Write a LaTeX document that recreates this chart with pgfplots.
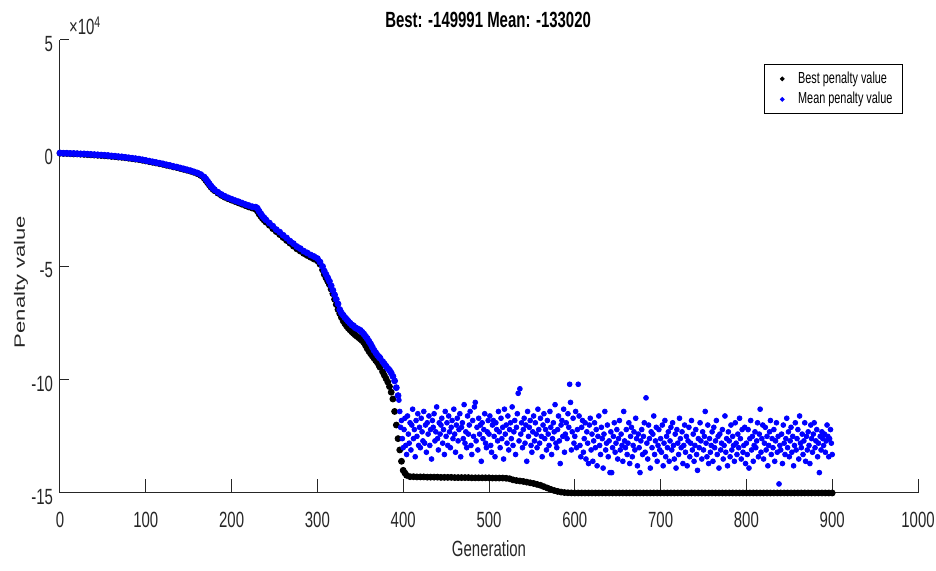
\documentclass[border=0pt]{standalone}
\usepackage{fontspec}
\setmainfont[FakeStretch=0.68]{Liberation Sans}
\newfontfamily\ylfont{Liberation Sans}
\usepackage{graphicx}
\usepackage{pgfplots}
\pgfplotsset{compat=1.18}
\usetikzlibrary{calc}
\definecolor{mgray}{rgb}{0.15,0.15,0.15}
\begin{document}
\begin{tikzpicture}
\begin{axis}[
  name=ax, scale only axis, width=429pt, height=226.5pt,
  xmin=0, xmax=1000, ymin=-15, ymax=5,
  axis x line*=bottom, axis y line*=left,
  axis line style={-, mgray, line width=0.5pt},
  xtick={0,100,...,1000}, ytick={-15,-10,-5,0,5},
  tick align=inside,
  xtick style={mgray, line width=0.5pt, /pgfplots/major tick length=7pt},
  ytick style={mgray, line width=0.5pt, /pgfplots/major tick length=4.5pt},
  tick label style={font=\fontsize{11}{12}\selectfont, text=mgray},
  /pgf/number format/assume math mode=true,
  /pgf/number format/1000 sep={},
  scaled ticks=false,
  xticklabel style={yshift=-5.8pt},
  yticklabel style={yshift=-2pt},
  xlabel={Generation},
  xlabel style={at={(axis description cs:0.5,0)}, anchor=base, yshift=-32pt, font=\fontsize{11}{12}\selectfont, text=mgray},
  ylabel={\ylfont\scalebox{1.47}[1]{Penalty value}},
  ylabel style={at={(axis description cs:-0.0408,0.466)}, anchor=base, font=\fontsize{7.5}{9}\selectfont, text=mgray},
  title={Best: -149991 Mean: -133020},
  title style={at={(axis description cs:0.499,1)}, anchor=base, yshift=0pt, font=\bfseries\fontsize{11}{12}\selectfont},
  legend style={at={(axis description cs:1,1)}, anchor=north east, xshift=-7.5pt, yshift=-12pt, draw=black, line width=0.5pt, font=\fontsize{8}{9}\selectfont, inner xsep=3pt, inner ysep=1.5pt, row sep=-1pt},
  legend cell align=left,
  legend image code/.code={\draw[mark size=0.9pt,#1] plot coordinates {(0.2cm,0cm)}; \path (0cm,0cm) (0.4cm,0cm);},
  clip=false,
]
% Best penalty value (units of 1e4)
\addplot[only marks, mark=*, mark size=1.5pt, black] coordinates {
(0,0.00)(4,-0.01)(8,-0.01)(12,-0.02)(16,-0.03)(20,-0.03)(24,-0.04)(28,-0.05)(32,-0.06)(36,-0.07)
(40,-0.08)(44,-0.09)(48,-0.10)(52,-0.11)(56,-0.12)(60,-0.14)(64,-0.15)(68,-0.17)(72,-0.18)(76,-0.20)
(80,-0.22)(84,-0.24)(88,-0.26)(92,-0.28)(96,-0.31)(100,-0.34)(104,-0.37)(108,-0.40)(112,-0.43)(116,-0.46)
(120,-0.49)(124,-0.53)(128,-0.56)(132,-0.60)(136,-0.63)(140,-0.67)(144,-0.71)(148,-0.75)(152,-0.79)(156,-0.84)
(160,-0.90)(164,-0.98)(168,-1.10)(170,-1.20)(172,-1.30)(174,-1.40)(176,-1.50)(178,-1.58)(180,-1.65)(184,-1.76)(188,-1.86)(192,-1.94)(196,-2.01)
(200,-2.07)(204,-2.13)(208,-2.19)(212,-2.25)(216,-2.31)(220,-2.37)(224,-2.42)(228,-2.47)(230,-2.55)(232,-2.68)
(234,-2.78)(236,-2.88)(238,-2.96)(240,-3.04)(244,-3.18)(248,-3.33)(252,-3.46)(256,-3.59)(260,-3.72)(264,-3.85)
(268,-3.97)(272,-4.10)(276,-4.22)(280,-4.32)(284,-4.42)(288,-4.51)(292,-4.59)(296,-4.67)
(300,-4.75)(303,-4.90)(306,-5.15)(308,-5.35)(310,-5.50)(312,-5.65)(314,-5.80)(316,-6.00)(318,-6.20)(320,-6.45)
(322,-6.68)(324,-6.90)(326,-7.08)(328,-7.25)(330,-7.40)(332,-7.52)(334,-7.63)(336,-7.72)(338,-7.80)(340,-7.88)
(342,-7.95)(344,-8.02)(346,-8.08)(348,-8.14)(350,-8.20)(352,-8.27)(354,-8.35)(356,-8.48)(358,-8.62)(360,-8.74)(362,-8.85)(364,-8.95)(366,-9.05)(368,-9.15)(370,-9.25)
(372,-9.38)(373,-9.45)(376,-9.65)(378,-9.80)(380,-9.95)(382,-10.10)(384,-10.30)(386,-10.55)(388,-10.85)(390,-11.40)(392,-12.00)
(394,-12.60)(396,-13.10)(398,-13.60)(400,-14.00)(402,-14.12)(404,-14.22)
(408,-14.28)(412,-14.28)(416,-14.29)(420,-14.29)(424,-14.29)(428,-14.30)(432,-14.30)(436,-14.30)(440,-14.30)(444,-14.31)
(448,-14.31)(452,-14.31)(456,-14.31)(460,-14.32)(464,-14.32)(468,-14.32)(472,-14.32)(476,-14.32)(480,-14.33)(484,-14.33)
(488,-14.33)(492,-14.33)(496,-14.33)(500,-14.33)(504,-14.34)(508,-14.34)(512,-14.34)(516,-14.34)(520,-14.35)
(524,-14.37)(528,-14.42)(532,-14.45)(536,-14.47)(540,-14.49)(544,-14.52)(548,-14.55)(552,-14.58)(556,-14.62)(560,-14.66)
(564,-14.72)(568,-14.78)(572,-14.84)(576,-14.89)(580,-14.93)(584,-14.96)(588,-14.98)(592,-14.99)(596,-14.995)
(600,-14.999)(604,-14.999)(608,-14.999)(612,-14.999)(616,-14.999)(620,-14.999)(624,-14.999)(628,-14.999)(632,-14.999)(636,-14.999)
(640,-14.999)(644,-14.999)(648,-14.999)(652,-14.999)(656,-14.999)(660,-14.999)(664,-14.999)(668,-14.999)(672,-14.999)(676,-14.999)
(680,-14.999)(684,-14.999)(688,-14.999)(692,-14.999)(696,-14.999)(700,-14.999)(704,-14.999)(708,-14.999)(712,-14.999)(716,-14.999)
(720,-14.999)(724,-14.999)(728,-14.999)(732,-14.999)(736,-14.999)(740,-14.999)(744,-14.999)(748,-14.999)(752,-14.999)(756,-14.999)
(760,-14.999)(764,-14.999)(768,-14.999)(772,-14.999)(776,-14.999)(780,-14.999)(784,-14.999)(788,-14.999)(792,-14.999)(796,-14.999)
(800,-14.999)(804,-14.999)(808,-14.999)(812,-14.999)(816,-14.999)(820,-14.999)(824,-14.999)(828,-14.999)(832,-14.999)(836,-14.999)
(840,-14.999)(844,-14.999)(848,-14.999)(852,-14.999)(856,-14.999)(860,-14.999)(864,-14.999)(868,-14.999)(872,-14.999)(876,-14.999)
(880,-14.999)(884,-14.999)(888,-14.999)(892,-14.999)(896,-14.999)(900,-14.9991)
};
\addlegendentry{Best penalty value}
% Mean penalty value, converging part
\addplot[only marks, mark=*, mark size=1.5pt, blue] coordinates {
(0,0.01)(4,0.00)(8,0.00)(12,-0.01)(16,-0.01)(20,-0.02)(24,-0.03)(28,-0.03)(32,-0.04)(36,-0.05)
(40,-0.06)(44,-0.07)(48,-0.08)(52,-0.09)(56,-0.10)(60,-0.12)(64,-0.13)(68,-0.15)(72,-0.16)(76,-0.18)
(80,-0.20)(84,-0.22)(88,-0.24)(92,-0.26)(96,-0.29)(100,-0.32)(104,-0.35)(108,-0.38)(112,-0.41)(116,-0.44)
(120,-0.47)(124,-0.51)(128,-0.54)(132,-0.58)(136,-0.61)(140,-0.65)(144,-0.69)(148,-0.73)(152,-0.77)(156,-0.82)
(160,-0.87)(164,-0.94)(168,-1.05)(170,-1.14)(172,-1.24)(174,-1.35)(176,-1.45)(178,-1.54)(180,-1.61)(184,-1.72)(188,-1.82)(192,-1.90)(196,-1.97)
(200,-2.03)(204,-2.09)(208,-2.14)(212,-2.20)(216,-2.26)(220,-2.31)(224,-2.36)(228,-2.38)(230,-2.43)(232,-2.56)
(234,-2.67)(236,-2.78)(238,-2.86)(240,-2.94)(244,-3.08)(248,-3.22)(252,-3.37)(256,-3.48)(260,-3.62)(264,-3.74)
(268,-3.88)(272,-3.99)(276,-4.12)(280,-4.21)(284,-4.32)(288,-4.40)(292,-4.49)(296,-4.56)
(300,-4.65)(303,-4.80)(306,-5.00)(308,-5.20)(310,-5.35)(312,-5.50)(314,-5.65)(316,-5.85)(318,-6.05)(320,-6.25)
(322,-6.45)(324,-6.65)(326,-6.90)(328,-7.05)(330,-7.15)(332,-7.25)(334,-7.33)(336,-7.42)(338,-7.50)(340,-7.58)
(342,-7.62)(344,-7.70)(346,-7.74)(348,-7.78)(350,-7.82)(352,-7.90)(354,-7.98)(356,-8.08)(358,-8.18)(360,-8.30)(362,-8.42)(364,-8.56)(366,-8.70)(368,-8.81)(370,-8.92)
(372,-9.00)(373,-9.05)(376,-9.20)(378,-9.30)(380,-9.40)(382,-9.50)(384,-9.58)(386,-9.70)(388,-9.85)(390,-10.05)(392,-10.35)
(394,-10.70)
};
\addlegendentry{Mean penalty value}
% Mean penalty value, scattered part
\addplot[only marks, mark=*, mark size=1.2pt, blue, forget plot] coordinates {
(395,-10.9)(396,-11.4)(397,-12.1)(398,-11.8)(399,-12.6)(400,-13.0)(401,-12.2)(402,-11.7)(403,-12.9)(404,-13.3)
(405,-11.6)(406,-12.4)(407,-12.8)(408,-11.9)(409,-13.1)(410,-12.0)(411,-11.3)(412,-12.6)(413,-12.2)(414,-13.4)
(415,-11.8)(416,-12.5)(417,-11.5)(418,-12.9)(419,-12.1)(420,-13.0)(421,-11.7)(422,-12.3)(423,-12.7)(424,-11.4)
(425,-12.8)(426,-12.0)(427,-13.2)(428,-11.9)(429,-12.4)(430,-11.6)(431,-12.9)(432,-12.2)(433,-13.5)(434,-11.8)
(435,-12.1)(436,-11.5)(437,-12.7)(438,-12.3)(439,-11.2)(440,-12.6)(441,-13.1)(442,-11.9)(443,-12.4)(444,-12.0)
(445,-11.7)(446,-12.8)(447,-12.2)(448,-13.3)(449,-11.4)(450,-12.5)(451,-11.9)(452,-12.9)(453,-11.6)(454,-12.3)
(455,-13.0)(456,-12.1)(457,-11.8)(458,-12.6)(459,-11.3)(460,-12.4)(461,-13.2)(462,-12.0)(463,-11.7)(464,-12.7)
(465,-12.2)(466,-11.5)(467,-13.4)(468,-12.1)(469,-11.9)(470,-12.6)(471,-11.1)(472,-12.8)(473,-12.3)(474,-13.0)
(475,-11.6)(476,-12.4)(477,-12.0)(478,-11.4)(479,-12.9)(480,-13.3)(481,-11.8)(482,-12.5)(483,-11.2)(484,-11.0)
(485,-12.7)(486,-12.1)(487,-13.1)(488,-11.7)(489,-12.4)(490,-12.0)(491,-13.6)(492,-11.9)(493,-12.6)(494,-12.2)
(495,-11.5)(496,-12.8)(497,-13.0)(498,-12.3)(499,-11.8)
(500,-12.4)(501,-11.6)(502,-12.9)(503,-13.2)(504,-12.0)(505,-11.8)(506,-12.5)(507,-13.4)(508,-11.9)(509,-12.2)
(510,-12.7)(511,-11.4)(512,-12.3)(513,-13.0)(514,-11.7)(515,-12.6)(516,-12.1)(517,-13.5)(518,-11.3)(519,-12.4)
(520,-12.0)(521,-12.8)(522,-11.6)(523,-13.1)(524,-12.2)(525,-11.9)(526,-12.6)(527,-11.2)(528,-12.9)(529,-12.3)
(530,-11.8)(531,-13.3)(532,-12.1)(533,-11.5)(534,-10.6)(535,-12.7)(536,-10.4)(537,-12.4)(538,-11.9)(539,-13.0)
(540,-12.2)(541,-11.7)(542,-12.8)(543,-12.0)(544,-13.6)(545,-11.4)(546,-12.5)(547,-12.1)(548,-11.8)(549,-12.9)
(550,-13.2)(551,-12.3)(552,-11.6)(553,-12.7)(554,-11.9)(555,-12.4)(556,-13.0)(557,-11.3)(558,-12.2)(559,-12.8)
(560,-11.7)(561,-12.5)(562,-13.4)(563,-12.0)(564,-11.5)(565,-12.6)(566,-12.2)(567,-13.1)(568,-11.8)(569,-12.4)
(570,-12.9)(571,-11.4)(572,-12.1)(573,-13.3)(574,-12.6)(575,-11.9)(576,-12.3)(577,-11.1)(578,-12.8)(579,-13.0)
(580,-12.2)(581,-11.6)(582,-12.7)(583,-13.7)(584,-12.0)(585,-11.8)(586,-12.5)(587,-11.3)(588,-13.2)(589,-12.4)
(590,-11.9)(591,-12.6)(592,-11.5)(593,-12.1)(594,-10.2)(595,-11.0)(596,-13.1)(597,-12.3)(598,-11.7)(599,-12.8)
(600,-12.5)(601,-11.4)(602,-13.0)(603,-12.2)(604,-10.2)(605,-11.6)(606,-12.9)(607,-13.4)(608,-12.1)(609,-11.8)
(610,-13.2)(611,-12.6)(612,-11.9)(613,-13.5)(614,-12.3)(615,-12.8)(616,-13.7)(617,-12.0)(618,-11.7)(619,-13.1)
(620,-12.4)(621,-13.6)(622,-12.7)(623,-11.9)(624,-13.0)(625,-12.2)(626,-13.8)(627,-12.5)(628,-11.6)(629,-12.9)
(630,-13.3)(631,-12.1)(632,-12.6)(633,-13.9)(634,-12.4)(635,-11.4)(636,-13.1)(637,-12.8)(638,-12.0)(639,-13.4)
(640,-12.7)(641,-14.1)(642,-12.3)(643,-14.1)(644,-13.0)(645,-12.5)(646,-11.9)(647,-13.2)(648,-12.8)(649,-12.2)
(650,-13.5)(651,-12.6)(652,-11.8)(653,-13.1)(654,-12.4)(655,-12.9)(656,-13.6)(657,-11.4)(658,-12.7)(659,-13.0)
(660,-12.2)(661,-13.3)(662,-12.8)(663,-11.9)(664,-13.7)(665,-12.5)(666,-12.1)(667,-13.4)(668,-12.9)(669,-12.3)
(670,-13.1)(671,-11.7)(672,-12.6)(673,-13.8)(674,-12.4)(675,-13.0)(676,-14.1)(677,-12.7)(678,-12.2)(679,-13.3)
(680,-12.5)(681,-11.9)(682,-13.2)(683,-10.8)(684,-12.8)(685,-13.5)(686,-12.0)(687,-12.6)(688,-13.9)(689,-12.3)
(690,-13.0)(691,-12.4)(692,-11.6)(693,-13.3)(694,-12.7)(695,-12.1)(696,-13.6)(697,-12.9)(698,-12.2)(699,-13.1)
(700,-12.6)(701,-13.2)(702,-12.0)(703,-13.8)(704,-12.8)(705,-11.8)(706,-13.4)(707,-12.5)(708,-13.0)(709,-12.3)
(710,-13.6)(711,-12.7)(712,-12.1)(713,-13.1)(714,-11.9)(715,-12.9)(716,-13.5)(717,-12.4)(718,-13.9)(719,-12.2)
(720,-12.8)(721,-13.3)(722,-11.7)(723,-12.6)(724,-13.0)(725,-12.3)(726,-13.7)(727,-12.9)(728,-12.0)(729,-13.2)
(730,-12.5)(731,-13.8)(732,-12.7)(733,-12.1)(734,-13.4)(735,-12.8)(736,-11.8)(737,-13.1)(738,-12.4)(739,-13.6)
(740,-12.9)(741,-12.2)(742,-13.3)(743,-14.0)(744,-12.6)(745,-13.0)(746,-11.9)(747,-12.7)(748,-13.5)(749,-12.3)
(750,-13.1)(751,-12.5)(752,-11.4)(753,-12.8)(754,-13.4)(755,-12.0)(756,-13.7)(757,-12.6)(758,-13.2)(759,-12.9)
(760,-12.3)(761,-13.6)(762,-12.1)(763,-13.0)(764,-12.7)(765,-11.8)(766,-13.3)(767,-12.5)(768,-13.9)(769,-12.4)
(770,-13.1)(771,-12.8)(772,-12.2)(773,-13.5)(774,-12.9)(775,-11.6)(776,-13.2)(777,-12.6)(778,-13.8)(779,-12.3)
(780,-12.7)(781,-13.4)(782,-12.0)(783,-13.1)(784,-12.5)(785,-12.9)(786,-13.6)(787,-11.9)(788,-12.8)(789,-13.3)
(790,-12.4)(791,-13.0)(792,-11.7)(793,-12.6)(794,-13.5)(795,-12.2)(796,-13.2)(797,-12.9)(798,-12.1)(799,-13.7)
(800,-12.8)(801,-13.3)(802,-12.2)(803,-13.9)(804,-12.6)(805,-11.8)(806,-13.1)(807,-12.5)(808,-13.6)(809,-12.9)
(810,-12.3)(811,-13.0)(812,-12.7)(813,-11.9)(814,-13.4)(815,-12.4)(816,-11.3)(817,-13.2)(818,-12.6)(819,-12.0)
(820,-13.5)(821,-12.8)(822,-12.1)(823,-13.1)(824,-12.5)(825,-13.8)(826,-12.9)(827,-12.3)(828,-11.8)(829,-13.3)
(830,-12.6)(831,-13.0)(832,-12.2)(833,-13.6)(834,-12.7)(835,-11.9)(836,-13.2)(837,-12.5)(838,-14.6)(839,-12.9)
(840,-13.1)(841,-12.4)(842,-13.7)(843,-12.0)(844,-12.8)(845,-13.3)(846,-12.6)(847,-11.7)(848,-13.0)(849,-12.3)
(850,-13.4)(851,-12.7)(852,-12.1)(853,-13.2)(854,-12.5)(855,-13.8)(856,-12.9)(857,-11.9)(858,-13.1)(859,-12.6)
(860,-12.2)(861,-13.5)(862,-11.6)(863,-12.8)(864,-13.0)(865,-12.4)(866,-13.3)(867,-12.7)(868,-11.9)(869,-13.6)
(870,-12.5)(871,-13.1)(872,-12.3)(873,-12.9)(874,-13.7)(875,-12.0)(876,-12.6)(877,-13.2)(878,-12.4)(879,-11.9)
(880,-13.0)(881,-12.7)(882,-12.2)(883,-13.4)(884,-12.8)(885,-14.1)(886,-12.5)(887,-13.1)(888,-12.3)(889,-12.6)
(890,-12.9)(891,-12.4)(892,-13.2)(893,-12.7)(894,-12.0)(895,-12.5)(896,-13.4)(897,-12.6)(898,-12.2)(899,-12.8)
(900,-13.302)
};
\node[anchor=base west, font=\fontsize{11}{12}\selectfont, text=mgray, xshift=1pt, yshift=2.5pt] at (axis description cs:0,1) {×10\textsuperscript{4}};
\end{axis}
\pgfresetboundingbox
\path[use as bounding box] ($(ax.south west)+(-30pt,-39pt)$) rectangle ($(ax.north east)+(9pt,20pt)$);
\end{tikzpicture}
\end{document}
